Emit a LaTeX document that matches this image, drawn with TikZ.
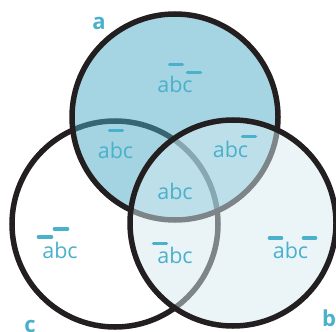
\documentclass[tikz,border=0pt]{standalone}
\usepackage{fontspec}
\setmainfont{Open Sans}
\definecolor{ink}{RGB}{35,31,32}
\definecolor{afill}{RGB}{75,171,197}
\definecolor{bfill}{RGB}{215,235,241}
\definecolor{txt}{RGB}{74,176,203}
\tikzset{
  setcircle/.style={line width=5.5pt, draw=ink},
  region/.style={text=txt, font=\fontsize{21.5}{21.5}\selectfont, anchor=base, inner sep=0pt},
  setname/.style={text=txt, font=\bfseries\fontsize{22}{22}\selectfont, inner sep=0pt},
  negbar/.style={draw=txt, line width=3.6pt, line cap=round}
}
\begin{document}
\begin{tikzpicture}[x=1pt,y=-1pt]
\useasboundingbox (0,0) rectangle (336,331);
\coordinate (ca) at (175,117);
\coordinate (cc) at (115,224);
\coordinate (cb) at (233,223);
% circles
\draw[setcircle, fill=white] (cc) circle (103);
\draw[setcircle, fill=afill, fill opacity=0.5] (ca) circle (103);
\draw[setcircle, fill=bfill, fill opacity=0.5] (cb) circle (103);
% set names
\node[setname] (la) at (99,23) {a};
\node[setname] (lb) at (329,318) {b};
\node[setname] (lc) at (30,326) {c};
% region labels
\node[region] (ra) at (175,93) {abc};
\node[region] (rac) at (115.5,158) {abc};
\node[region] (rab) at (230.5,157) {abc};
\node[region] (rabc) at (175,199) {abc};
\node[region] (rc) at (60,258) {abc};
\node[region] (rbc) at (175,263) {abc};
\node[region] (rb) at (290.5,258) {abc};
% negation bars
\draw[negbar] (169.5,64.5) -- (182.5,64.5);
\draw[negbar] (187.5,72.5) -- (200.5,72.5);
\draw[negbar] (109.5,130.5) -- (122.5,130.5);
\draw[negbar] (242.5,136.5) -- (255.5,136.5);
\draw[negbar] (54.5,229) -- (67.5,229);
\draw[negbar] (38.5,237) -- (51.5,237);
\draw[negbar] (153.5,243.5) -- (166.5,243.5);
\draw[negbar] (269.5,238) -- (281.5,238);
\draw[negbar] (303.5,238) -- (315.5,238);
\end{tikzpicture}
\end{document}
